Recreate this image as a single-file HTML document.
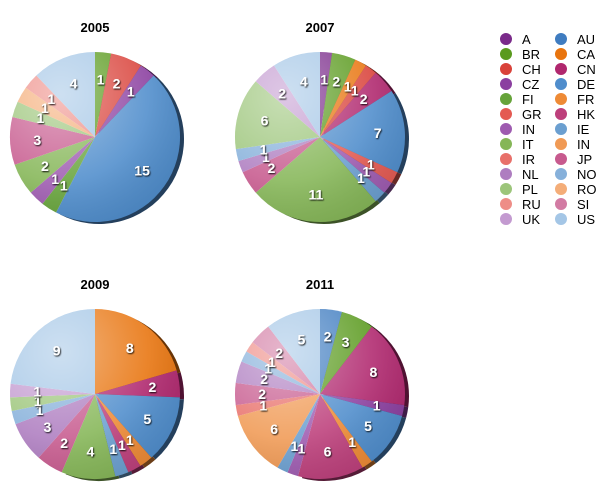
<!DOCTYPE html>
<html><head><meta charset="utf-8"><style>
body{margin:0;background:#fff;width:610px;height:490px;overflow:hidden;font-family:"Liberation Sans",sans-serif}
svg{display:block}
</style></head><body>
<svg id="c" width="610" height="490">
<defs>
<radialGradient id="shine" cx="0.3" cy="0.25" r="0.85">
<stop offset="0" stop-color="#fff" stop-opacity="0.45"/>
<stop offset="0.6" stop-color="#fff" stop-opacity="0.12"/>
<stop offset="1" stop-color="#000" stop-opacity="0.08"/>
</radialGradient>
<filter id="ts"><feDropShadow dx="0.8" dy="1" stdDeviation="0.8" flood-color="#000" flood-opacity="0.9"/></filter>
</defs>
</svg>
<script>
const legendCats=["A","BR","CH","CZ","FI","GR","IN","IT","IR","NL","PL","RU","UK","AU","CA","CN","DE","FR","HK","IE","IN2","JP","NO","RO","SI","US"];
const legendColors=["#7a2a8a","#5a9a1e","#d9423a","#8b3fa0","#66a33a","#e45a52","#9e5bb0","#85b657","#e8706a","#ae7dc0","#9cc57a","#ee8d87","#c39ad0","#3f7cc0","#e8740e","#b0276e","#4f8dcc","#ee8a35","#bd3f7b","#6b9fd0","#f09a55","#c75a8e","#86b0da","#f4ad78","#d27ba3","#a4c6e6"];
const years=["2005","2007","2009","2011"];
const cats2005=["BR","CH","CZ","DE","FI","IN","IT","JP","PL","RO","RU","US"];
const vals2005=[1,2,1,15,1,1,2,3,1,1,1,4];
const cats2007=["A","BR","CA","CH","CN","DE","GR","IN","IE","IT","JP","NL","NO","PL","UK","US"];
const vals2007=[1,2,1,1,2,7,1,1,1,11,2,1,1,6,2,4];
const cats2009=["CA","CN","DE","FR","HK","IE","IT","JP","NL","NO","PL","UK","US"];
const vals2009=[8,2,5,1,1,1,4,2,3,1,1,1,9];
const cats2011=["AU","BR","CN","CZ","DE","FR","HK","IN","IE","IN2","IR","JP","NL","NO","RU","SI","US"];
const vals2011=[2,3,8,1,5,1,6,1,1,6,1,2,2,1,1,2,5];
const svg=document.getElementById('c');
const NS="http://www.w3.org/2000/svg";
function mk(t,a){const e=document.createElementNS(NS,t);for(const k in a)e.setAttribute(k,a[k]);return e;}
function col(c){return legendColors[legendCats.indexOf(c)];}
function shade(hex,f){const n=parseInt(hex.slice(1),16);let r=n>>16,g=(n>>8)&255,b=n&255;return `rgb(${Math.round(r*f)},${Math.round(g*f)},${Math.round(b*f)})`;}
const pies=[
 {cx:95,cy:137,cats:cats2005,vals:vals2005},
 {cx:320,cy:137,cats:cats2007,vals:vals2007},
 {cx:95,cy:394,cats:cats2009,vals:vals2009},
 {cx:320,cy:394,cats:cats2011,vals:vals2011}];
const R=85;
pies.forEach((p,pi)=>{
 const g=mk('g',{});
 
 
 svg.appendChild(g);
 const t=mk('text',{x:p.cx,y:p.cy-105,'text-anchor':'middle','font-size':'13','font-weight':'bold',fill:'#000'});
 t.textContent=years[pi];
 
 
 g.appendChild(t);
 const tot=p.vals.reduce((a,b)=>a+b,0);
 // 3D edge
 let a0=-Math.PI/2;
 p.vals.forEach((v,i)=>{
  const a1=a0+v/tot*2*Math.PI;
  const m=(a0+a1)/2;
  if(Math.cos(m)>-0.1){
   const ox=4,oy=2;
   const x0=p.cx+ox+R*Math.cos(a0),y0=p.cy+oy+R*Math.sin(a0),x1=p.cx+ox+R*Math.cos(a1),y1=p.cy+oy+R*Math.sin(a1);
   const e=mk('path',{d:`M${p.cx+ox},${p.cy+oy}L${x0},${y0}A${R},${R} 0 ${a1-a0>Math.PI?1:0} 1 ${x1},${y1}Z`,fill:shade(col(p.cats[i]),0.45)});
   
   
   g.appendChild(e);
  }
  a0=a1;
 });
 a0=-Math.PI/2;
 const labels=[];
 p.vals.forEach((v,i)=>{
  const a1=a0+v/tot*2*Math.PI;
  const x0=p.cx+R*Math.cos(a0),y0=p.cy+R*Math.sin(a0),x1=p.cx+R*Math.cos(a1),y1=p.cy+R*Math.sin(a1);
  const s=mk('path',{d:`M${p.cx},${p.cy}L${x0},${y0}A${R},${R} 0 ${a1-a0>Math.PI?1:0} 1 ${x1},${y1}Z`,fill:col(p.cats[i])});
  
  
  g.appendChild(s);
  const m=(a0+a1)/2;
  labels.push([p.cx+R*0.68*Math.cos(m),p.cy+R*0.68*Math.sin(m)+5,v]);
  a0=a1;
 });
 const ov=mk('circle',{cx:p.cx,cy:p.cy,r:R,fill:'url(#shine)'});
 
 
 g.appendChild(ov);
 labels.forEach(l=>{
  const lt=mk('text',{x:l[0],y:l[1],'text-anchor':'middle','font-size':'14','font-weight':'bold',fill:'#fff',filter:'url(#ts)'});
  lt.textContent=l[2];
  
  
  g.appendChild(lt);
 });
});
// legend
const lg=mk('g',{});


svg.appendChild(lg);
legendCats.forEach((c,i)=>{
 const colI=Math.floor(i/13),row=i%13;
 const x=506+colI*55,y=39+row*15;
 const e=mk('g',{});
 
 
 lg.appendChild(e);
 e.appendChild(mk('circle',{cx:x,cy:y,r:6,fill:legendColors[i]}));
 const t=mk('text',{x:x+16,y:y+5,'font-size':'13',fill:'#000'});
 t.textContent=c==="IN2"?"IN":c;
 e.appendChild(t);
});
</script>
</body></html>
